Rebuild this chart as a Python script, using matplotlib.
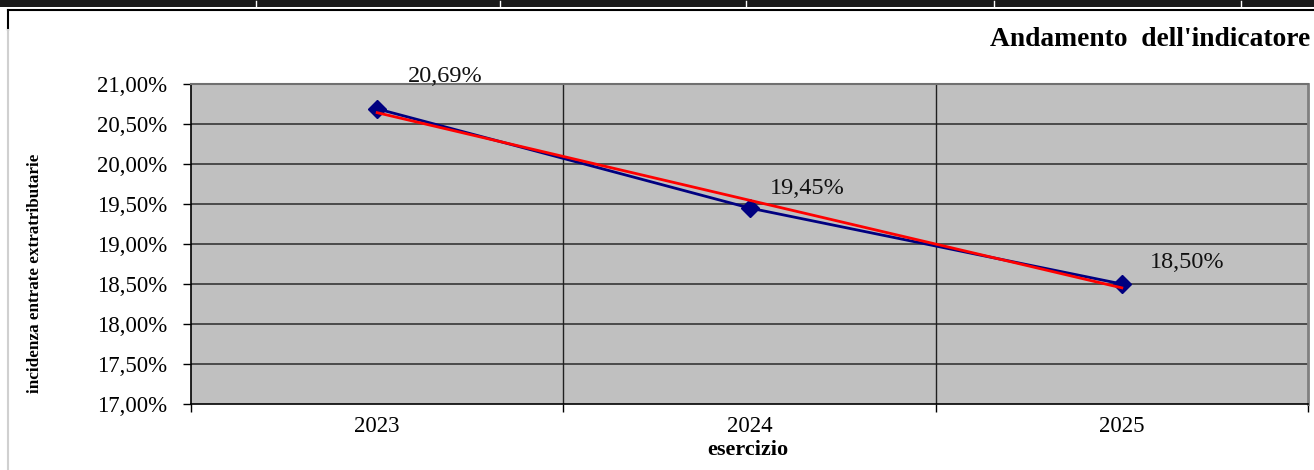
import matplotlib
matplotlib.use("Agg")
import matplotlib.pyplot as plt
from matplotlib.lines import Line2D
from matplotlib.patches import Rectangle
from matplotlib.ticker import FuncFormatter, FixedLocator
import numpy as np

years = ["2023", "2024", "2025"]
values = [20.69, 19.45, 18.50]
y_ticks = [17.0, 17.5, 18.0, 18.5, 19.0, 19.5, 20.0, 20.5, 21.0]

plt.rcParams["font.family"] = ["Liberation Serif", "DejaVu Serif"]

W, H = 1314, 470
fig = plt.figure(figsize=(W / 100, H / 100), dpi=100)

def fx(px):
    return px / W

def fy(py):
    return 1 - py / H

# outer frame decorations
fig.add_artist(Rectangle((0, fy(7)), 1, 7 / H, transform=fig.transFigure,
                         facecolor="#1a1a1a", edgecolor="none"))
for px in [256, 500, 746, 994, 1241]:
    fig.add_artist(Line2D([fx(px), fx(px)], [fy(7), fy(1)], color="white", lw=1))
fig.add_artist(Line2D([fx(8), 1], [fy(9.5), fy(9.5)], color="black", lw=1.5))
fig.add_artist(Line2D([fx(8), fx(8)], [fy(9.5), fy(30)], color="black", lw=1.5))
fig.add_artist(Line2D([fx(8), fx(8)], [fy(30), 0], color="#d0d0d0", lw=1.5))

ax = fig.add_axes([fx(191), fy(404), fx(1308) - fx(191), (404 - 84) / H])
ax.set_facecolor("#c0c0c0")

x = np.arange(len(values))
ax.set_xlim(-0.5, len(values) - 0.5)
ax.set_ylim(y_ticks[0], y_ticks[-1])

# horizontal and vertical grid
ax.yaxis.set_major_locator(FixedLocator(y_ticks))
for yv in y_ticks[1:-1]:
    ax.axhline(yv, color="#2a2a2a", lw=1.1, zorder=1)
for xv in np.arange(0.5, len(values) - 0.5, 1):
    ax.axvline(xv, color="#202020", lw=1, zorder=1)

# data series and linear trend
ax.plot(x, values, color="#000080", lw=2, marker="D", markersize=9, zorder=3)
coef = np.polyfit(x, values, 1)
ax.plot(x, np.polyval(coef, x), color="#ff0000", lw=2, zorder=4)

# value labels, offsets in pixels (right, up)
label_offsets = [(68, 32), (58, 20), (65, 21)]
for xi, v, (dx, dy) in zip(x, values, label_offsets):
    ax.annotate(f"{v:.2f}%".replace(".", ","), (xi, v), xytext=(dx * 0.72, dy * 0.72),
                textcoords="offset points", ha="center", va="center",
                fontsize=17.5, color="#111111", zorder=5, annotation_clip=False)

ax.yaxis.set_major_formatter(FuncFormatter(lambda v, p: f"{v:.2f}%".replace(".", ",")))
ax.tick_params(axis="y", length=6, width=1, pad=11, labelsize=16.5, color="black")

ax.set_xticks(x)
ax.set_xticklabels(years)
ax.set_xticks(np.arange(-0.5, len(values), 1), minor=True)
ax.tick_params(axis="x", which="major", length=0, pad=9, labelsize=16.5)
ax.tick_params(axis="x", which="minor", length=6, width=1, color="black")

for side in ["left", "bottom"]:
    ax.spines[side].set_color("black")
    ax.spines[side].set_linewidth(1.2)
ax.spines["top"].set_color("#707070")
ax.spines["top"].set_linewidth(1.5)
ax.spines["right"].set_color("#808080")
ax.spines["right"].set_linewidth(2)

fig.text(fx(748), fy(450), "esercizio", ha="center", va="center",
         fontsize=16, fontweight="bold")
fig.text(fx(35), fy(273), "incidenza entrate extratributarie", rotation=90,
         ha="center", va="center", fontsize=12.3, fontweight="bold")
fig.text(fx(1310), fy(39), "Andamento  dell'indicatore", ha="right", va="center",
         fontsize=19.8, fontweight="bold")

fig.savefig("out.png", dpi=100)
